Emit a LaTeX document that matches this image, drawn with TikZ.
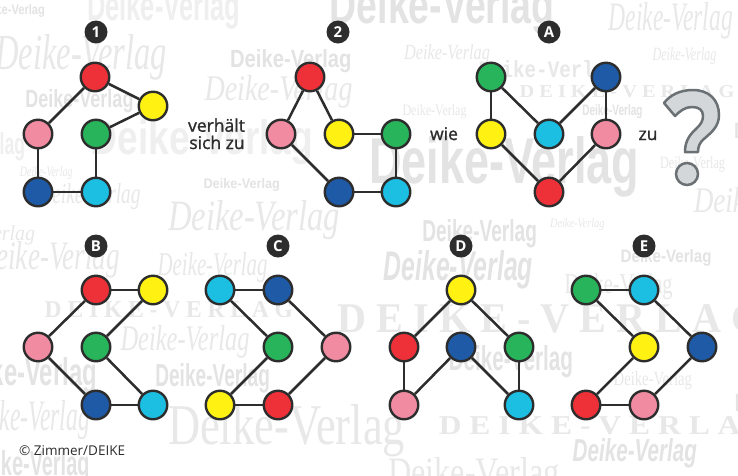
\documentclass[tikz,border=0pt]{standalone}
\usepackage{fontspec}
\setmainfont{Open Sans}
\newfontfamily\semifont{Open Sans}[FakeBold=1.3]
\newfontfamily\wsans{Liberation Sans}
\newfontfamily\wserif{Liberation Serif}
\newfontfamily\wcaps{Liberation Serif}[LetterSpace=25]
\newfontfamily\wmono{Liberation Mono}
\usetikzlibrary{backgrounds}
\definecolor{cred}{HTML}{EE3138}
\definecolor{cyel}{HTML}{FFF212}
\definecolor{cpink}{HTML}{F08BA2}
\definecolor{cgreen}{HTML}{27B45A}
\definecolor{cblue}{HTML}{1E5AA6}
\definecolor{ccyan}{HTML}{1CBEE2}
\definecolor{cline}{HTML}{2D2D2D}
\definecolor{wmcA}{HTML}{E3E3E3}
\definecolor{wmcB}{HTML}{E8E8E8}
\definecolor{wmcC}{HTML}{EFEFEF}
\definecolor{qfill}{HTML}{D3D7DA}
\definecolor{qdraw}{HTML}{6A7073}
\tikzset{
  dot/.style={circle, draw=cline, line width=2.4pt, minimum size=28.5pt, inner sep=0pt},
  edge/.style={draw=cline, line width=2.5pt},
  badge/.style={circle, fill=cline, minimum size=23pt, inner sep=0pt, text=white,
    font=\bfseries\fontsize{15}{15}\selectfont},
  txt/.style={anchor=base, inner sep=0pt, text=cline, font=\semifont\fontsize{17.5}{17.5}\selectfont},
  wmA/.style={inner sep=0pt, text=wmcA},
  wmB/.style={inner sep=0pt, text=wmcB},
  wmC/.style={inner sep=0pt, text=wmcC},
}
\newcommand\WS{\wsans\bfseries}
\newcommand\WSI{\wsans\bfseries\itshape}
\newcommand\WI{\wserif\itshape}
\newcommand\WR{\wserif}
\newcommand\WC{\wcaps\bfseries}
\newcommand\WM{\wmono\bfseries}
% name, style, font, x, y, width, height, text
\newcommand\wmk[8]{\node[#2] (#1) at (#4,#5) {\resizebox{#6pt}{#7pt}{#3 #8}};}
\begin{document}
\begin{tikzpicture}[x=1pt,y=-1pt]
\useasboundingbox (0,0) rectangle (738,475);
% ---------- figure 1
\node[badge] (b1) at (96,32) {1};
\node[dot, fill=cred]   (a1) at (95,77) {};
\node[dot, fill=cyel]   (a2) at (153,106) {};
\node[dot, fill=cpink]  (a3) at (38,134) {};
\node[dot, fill=cgreen] (a4) at (96,134) {};
\node[dot, fill=cblue]  (a5) at (38,192) {};
\node[dot, fill=ccyan]  (a6) at (96,192) {};
% ---------- figure 2
\node[badge] (b2) at (338,32) {2};
\node[dot, fill=cred]   (c1) at (310,77) {};
\node[dot, fill=cpink]  (c2) at (281,134) {};
\node[dot, fill=cyel]   (c3) at (339,134) {};
\node[dot, fill=cgreen] (c4) at (396,134) {};
\node[dot, fill=cblue]  (c5) at (339,192) {};
\node[dot, fill=ccyan]  (c6) at (396,192) {};
% ---------- figure A
\node[badge] (bA) at (549,32) {A};
\node[dot, fill=cgreen] (d1) at (491,77) {};
\node[dot, fill=cblue]  (d2) at (606,77) {};
\node[dot, fill=cyel]   (d3) at (491,134) {};
\node[dot, fill=ccyan]  (d4) at (549,134) {};
\node[dot, fill=cpink]  (d5) at (606,134) {};
\node[dot, fill=cred]   (d6) at (549,192) {};
% ---------- figure B
\node[badge] (bB) at (96,246) {B};
\node[dot, fill=cred]   (e1) at (96,290) {};
\node[dot, fill=cyel]   (e2) at (153,290) {};
\node[dot, fill=cpink]  (e3) at (38,347) {};
\node[dot, fill=cgreen] (e4) at (96,347) {};
\node[dot, fill=cblue]  (e5) at (96,405) {};
\node[dot, fill=ccyan]  (e6) at (153,405) {};
% ---------- figure C
\node[badge] (bC) at (278,246) {C};
\node[dot, fill=ccyan]  (f1) at (220,290) {};
\node[dot, fill=cblue]  (f2) at (278,290) {};
\node[dot, fill=cgreen] (f3) at (278,347) {};
\node[dot, fill=cpink]  (f4) at (336,347) {};
\node[dot, fill=cyel]   (f5) at (220,405) {};
\node[dot, fill=cred]   (f6) at (278,405) {};
% ---------- figure D
\node[badge] (bD) at (461,246) {D};
\node[dot, fill=cyel]   (g1) at (461,290) {};
\node[dot, fill=cred]   (g2) at (404,347) {};
\node[dot, fill=cblue]  (g3) at (461,347) {};
\node[dot, fill=cgreen] (g4) at (519,347) {};
\node[dot, fill=cpink]  (g5) at (404,405) {};
\node[dot, fill=ccyan]  (g6) at (519,405) {};
% ---------- figure E
\node[badge] (bE) at (644,246) {E};
\node[dot, fill=cgreen] (h1) at (586,290) {};
\node[dot, fill=ccyan]  (h2) at (644,290) {};
\node[dot, fill=cyel]   (h3) at (644,347) {};
\node[dot, fill=cblue]  (h4) at (702,347) {};
\node[dot, fill=cred]   (h5) at (586,405) {};
\node[dot, fill=cpink]  (h6) at (644,405) {};
% ---------- texts
\node[txt] (t1) at (216.5,131.7) {verhält};
\node[txt] (t2) at (217,149) {sich zu};
\node[txt] (t3) at (444,140) {wie};
\node[txt] (t4) at (648,140) {zu};
\node[anchor=base west, inner sep=0pt, text=cline, font=\fontsize{13.5}{13.5}\selectfont] (cp) at (19,455) {© Zimmer/DEIKE};
% ---------- question mark
\path[fill=qfill, draw=qdraw, line width=2.5pt, line join=round]
  (664,103) .. controls (670,95) and (680,90) .. (693,90)
  .. controls (709,90) and (719,100) .. (719,115)
  .. controls (719,126) and (712,132) .. (705,138)
  .. controls (700,142) and (698,146) .. (698,152)
  -- (685,152)
  .. controls (685,143) and (688,136) .. (696,129)
  .. controls (701,124) and (703,121) .. (703,116)
  .. controls (703,110) and (699,107) .. (692,107)
  .. controls (685,107) and (680,111) .. (675,116)
  -- cycle;
\path[fill=qfill, draw=qdraw, line width=2.5pt] (687,174) circle[radius=11];
% ---------- background: watermarks and edges
\begin{scope}[on background layer]
\fill[white] (0,0) rectangle (738,475);
\begin{scope}
\clip (0,0) rectangle (738,475);
\wmk{w1}{wmA}{\WS}{437}{10}{235}{38}{Deike-Verlag}
\wmk{w2}{wmC}{\WS}{160}{10}{160}{30}{Deike-Verlag}
\wmk{w3}{wmB}{\WI}{668}{21}{130}{28}{Deike-Verlag}
\wmk{w4}{wmB}{\WI}{77}{57}{180}{35}{Deike-Verlag}
\wmk{w5}{wmA}{\WS}{77}{101}{113}{18}{Deike-Verlag}
\wmk{w6}{wmC}{\WS}{197}{142}{233}{35}{Deike-Verlag}
\wmk{w7}{wmB}{\WI}{45}{173}{55}{10}{Deike-Verlag}
\wmk{w8}{wmA}{\WS}{240}{185}{80}{10}{Deike-Verlag}
\wmk{w9}{wmB}{\WI}{250}{220}{180}{30}{Deike-Verlag}
\wmk{w10}{wmA}{\WS}{498}{167}{283}{47}{Deike-Verlag}
\wmk{w11}{wmA}{\WS}{288}{61}{127}{18}{Deike-Verlag}
\wmk{w12}{wmB}{\WI}{275}{92}{155}{25}{Deike-Verlag}
\wmk{w13}{wmB}{\WM}{542}{71}{150}{17}{Deike-Verlag}
\wmk{w14}{wmB}{\WC}{622}{92}{225}{12}{DEIKE-VERLAG}
\wmk{w15}{wmB}{\WI}{445}{54}{90}{15}{Deike-Verlag}
\wmk{w16}{wmB}{\WI}{683}{56}{67}{13}{Deike-Verlag}
\wmk{w17}{wmB}{\WR}{433}{112}{67}{11}{Deike-Verlag}
\wmk{w18}{wmA}{\WS}{611}{112}{63}{11}{Deike-Verlag}
\wmk{w19}{wmB}{\WR}{691}{164}{68}{12}{Deike-Verlag}
\wmk{w20}{wmB}{\WI}{762}{204}{150}{25}{Deike-Verlag}
\wmk{w21}{wmB}{\WI}{-20}{235}{110}{15}{Deike-Verlag}
\wmk{w22}{wmB}{\WI}{45}{260}{150}{28}{Deike-Verlag}
\wmk{w23}{wmB}{\WI}{210}{268}{115}{23}{Deike-Verlag}
\wmk{w24}{wmB}{\WC}{163}{310}{260}{16}{DEIKE-VERLAG}
\wmk{w25}{wmB}{\WC}{540}{319}{445}{28}{DEIKE-VERLAG}
\wmk{w26}{wmB}{\WI}{182}{342}{135}{25}{Deike-Verlag}
\wmk{w27}{wmA}{\WS}{22}{376}{150}{28}{Deike-Verlag}
\wmk{w28}{wmA}{\WS}{210}{378}{120}{23}{Deike-Verlag}
\wmk{w29}{wmB}{\WI}{25}{420}{130}{30}{Deike-Verlag}
\wmk{w30}{wmB}{\WR}{281}{431}{248}{40}{Deike-Verlag}
\wmk{w31}{wmA}{\WS}{27}{467}{125}{25}{Deike-Verlag}
\wmk{w32}{wmA}{\WS}{477}{234}{120}{22}{Deike-Verlag}
\wmk{w33}{wmB}{\WI}{576}{224}{57}{9}{Deike-Verlag}
\wmk{w34}{wmA}{\WSI}{455}{270}{156}{30}{Deike-Verlag}
\wmk{w35}{wmA}{\WS}{664}{258}{95}{13}{Deike-Verlag}
\wmk{w36}{wmB}{\WR}{616}{287}{113}{20}{Deike-Verlag}
\wmk{w37}{wmA}{\WS}{508}{362}{130}{25}{Deike-Verlag}
\wmk{w38}{wmB}{\WR}{651}{381}{82}{14}{Deike-Verlag}
\wmk{w39}{wmB}{\WC}{598}{426}{350}{18}{DEIKE-VERLAG}
\wmk{w40}{wmA}{\WSI}{632}{453}{130}{23}{Deike-Verlag}
\wmk{w41}{wmB}{\WR}{470}{476}{180}{28}{Deike-Verlag}
\wmk{w42}{wmA}{\WS}{780}{133}{100}{16}{Deike-Verlag}
\wmk{w43}{wmA}{\WS}{785}{405}{110}{18}{Deike-Verlag}
\wmk{w44}{wmB}{\WI}{87}{197}{107}{20}{Deike-Verlag}
\wmk{w45}{wmC}{\WS}{-30}{147}{110}{22}{Deike-Verlag}
\wmk{w46}{wmA}{\WS}{10}{11}{70}{10}{Deike-Verlag}
\end{scope}
\draw[edge] (a1) -- (a2); \draw[edge] (a1) -- (a3); \draw[edge] (a2) -- (a4);
\draw[edge] (a3) -- (a5); \draw[edge] (a4) -- (a6); \draw[edge] (a5) -- (a6);
\draw[edge] (c1) -- (c2); \draw[edge] (c1) -- (c3); \draw[edge] (c3) -- (c4);
\draw[edge] (c4) -- (c6); \draw[edge] (c2) -- (c5); \draw[edge] (c5) -- (c6);
\draw[edge] (d1) -- (d3); \draw[edge] (d1) -- (d4); \draw[edge] (d2) -- (d4);
\draw[edge] (d2) -- (d5); \draw[edge] (d3) -- (d6); \draw[edge] (d5) -- (d6);
\draw[edge] (e1) -- (e2); \draw[edge] (e1) -- (e3); \draw[edge] (e2) -- (e4);
\draw[edge] (e3) -- (e5); \draw[edge] (e4) -- (e6); \draw[edge] (e5) -- (e6);
\draw[edge] (f1) -- (f2); \draw[edge] (f1) -- (f3); \draw[edge] (f2) -- (f4);
\draw[edge] (f3) -- (f5); \draw[edge] (f4) -- (f6); \draw[edge] (f5) -- (f6);
\draw[edge] (g1) -- (g2); \draw[edge] (g1) -- (g4); \draw[edge] (g2) -- (g5);
\draw[edge] (g3) -- (g5); \draw[edge] (g3) -- (g6); \draw[edge] (g4) -- (g6);
\draw[edge] (h1) -- (h2); \draw[edge] (h1) -- (h3); \draw[edge] (h2) -- (h4);
\draw[edge] (h3) -- (h5); \draw[edge] (h4) -- (h6); \draw[edge] (h5) -- (h6);
\end{scope}
\end{tikzpicture}
\end{document}
